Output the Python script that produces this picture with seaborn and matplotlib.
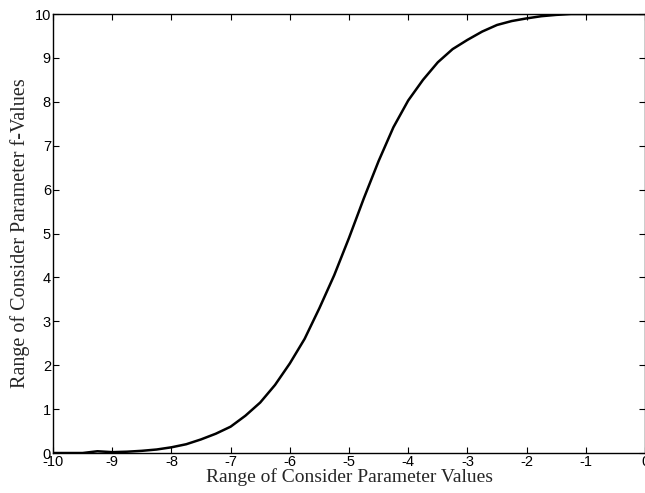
import numpy as np
import pandas as pd
import seaborn as sns
import matplotlib
matplotlib.use('Agg')
import matplotlib.pyplot as plt

# values
x_vals = [-10, -9.75, -9.5, -9.25, -9, -8.75, -8.5, -8.25, -8, -7.75, -7.5, -7.25,
          -7, -6.75, -6.5, -6.25, -6, -5.75, -5.5, -5.25, -5, -4.75, -4.5, -4.25,
          -4, -3.75, -3.5, -3.25, -3, -2.75, -2.5, -2.25, -2, -1.75, -1.5, -1.25,
          -1, -0.5, 0]
f_vals = [0, 0, 0, 0.04, 0.02, 0.03, 0.05, 0.08, 0.13, 0.2, 0.31, 0.44,
          0.6, 0.85, 1.15, 1.55, 2.04, 2.6, 3.3, 4.05, 4.9, 5.8, 6.65, 7.42,
          8.03, 8.5, 8.9, 9.2, 9.41, 9.6, 9.75, 9.84, 9.9, 9.95, 9.98, 10.0,
          10.0, 10.0, 10.0]
x_ticks = list(range(-10, 1))
y_ticks = list(range(0, 11))

df = pd.DataFrame({'x': x_vals, 'f': f_vals})

sns.set_style('white')
fig = plt.figure(figsize=(6.45, 4.93), dpi=100)
ax = fig.add_axes([0.0822, 0.0811, 0.9178, 0.8905])

sns.lineplot(data=df, x='x', y='f', color='black', linewidth=1.8, ax=ax)

ax.set_xlim(-10, 0)
ax.set_ylim(0, 10)
ax.set_xticks(x_ticks)
ax.set_yticks(y_ticks)
ax.set_xticklabels([str(t) for t in x_ticks], family='Liberation Sans', fontsize=10.5)
ax.set_yticklabels([str(t) for t in y_ticks], family='Liberation Sans', fontsize=10.5)
ax.tick_params(direction='in', length=4, width=0.8, top=True, right=True,
               bottom=True, left=True, pad=1.5, colors='black')
for s in ax.spines.values():
    s.set_color('black')
    s.set_linewidth(1.0)

ax.set_xlabel('Range of Consider Parameter Values', family='Liberation Serif',
              fontsize=14, labelpad=-1)
ax.set_ylabel('Range of Consider Parameter f-Values', family='Liberation Serif',
              fontsize=14.5, labelpad=3)

fig.savefig('out.png', dpi=100)
